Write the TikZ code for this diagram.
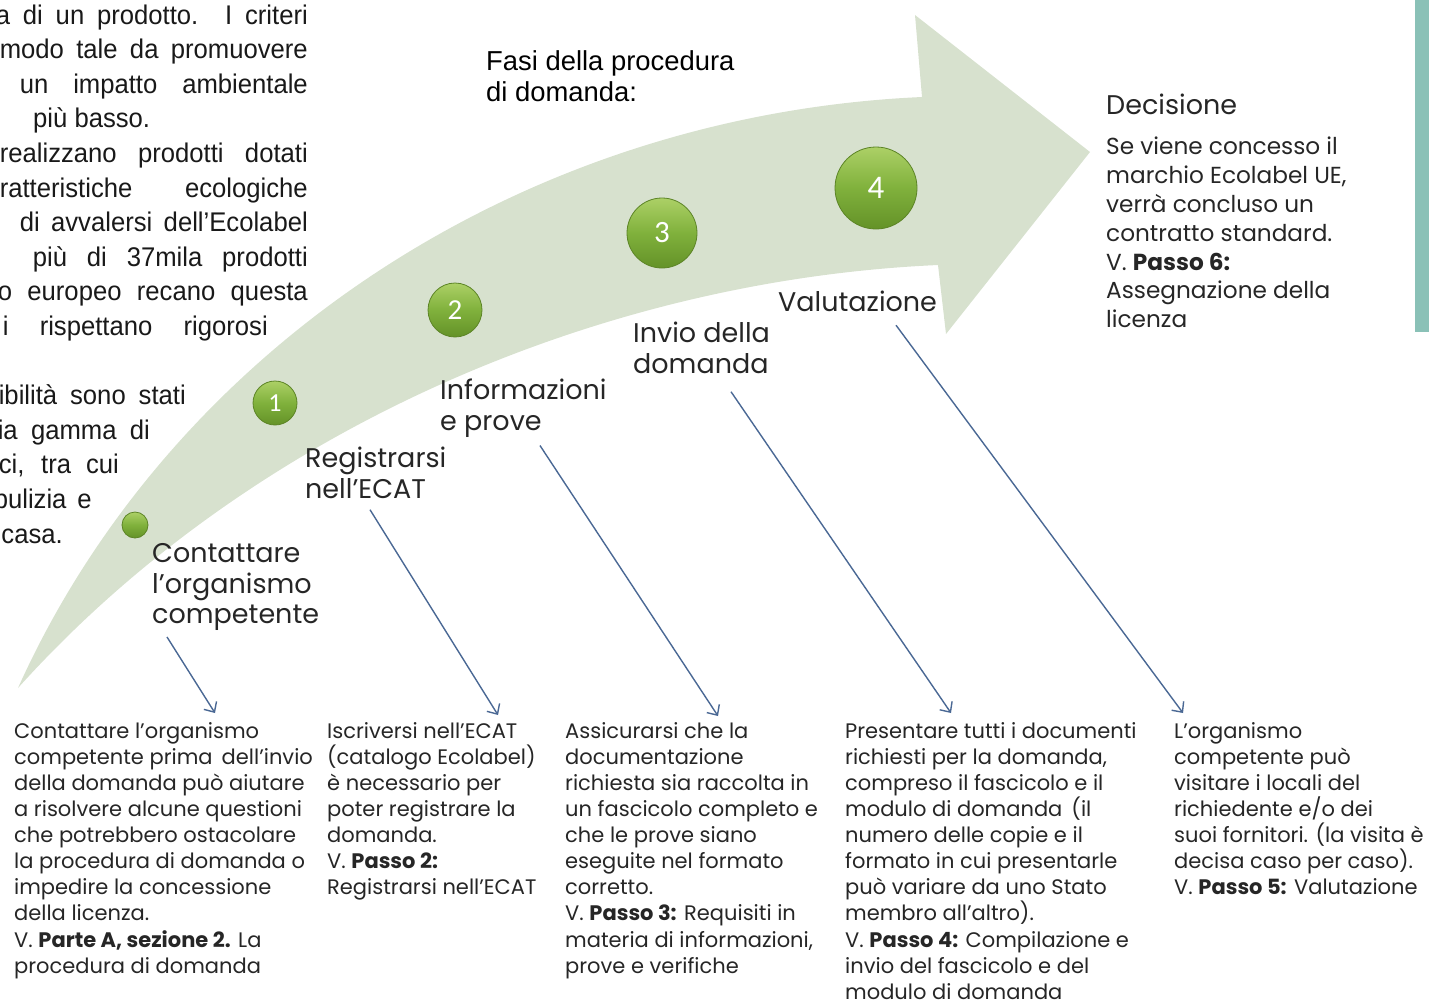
\documentclass[tikz,border=0pt]{standalone}
\usepackage{fontspec}
\setmainfont{Poppins}
\newfontfamily\helv{Liberation Sans}
\newfontfamily\helvschmal[FakeStretch=0.95]{Liberation Sans}
\newfontfamily\zahl{Carlito}
\usetikzlibrary{arrows.meta}
\definecolor{pfeilgruen}{RGB}{215,225,206}
\definecolor{kugelhell}{RGB}{172,208,102}
\definecolor{kugelgruen}{RGB}{128,177,60}
\definecolor{kugeldunkel}{RGB}{100,146,40}
\definecolor{kugelrand}{RGB}{92,132,38}
\definecolor{linienblau}{RGB}{74,104,148}
\definecolor{balken}{RGB}{138,193,183}
\definecolor{schrift}{RGB}{38,38,38}
\tikzset{
	kugel/.style={circle,draw=kugelrand,line width=0.8pt,top color=kugelhell,bottom color=kugeldunkel,middle color=kugelgruen,text=white,inner sep=0pt},
	phase/.style={anchor=north west,align=left,inner sep=0pt,text=schrift,font=\fontsize{27}{30.5}\selectfont},
	spalte/.style={anchor=north west,align=left,inner sep=0pt,text=schrift,font=\fontsize{21}{26.1}\selectfont},
	links/.style={anchor=base east,inner sep=0pt,text=black!90,font=\helvschmal\fontsize{27}{34}\selectfont},
	verbinder/.style={draw=linienblau,line width=1.4pt,-{Straight Barb[length=8pt,width=15pt]}}
}
\begin{document}
\begin{tikzpicture}[x=1pt,y=-1pt]
	\useasboundingbox (0,0) rectangle (1439,1005);
	% Fliesstext links
	\node[links] (z1) at (308,24) {\makebox[312pt][s]{a di un prodotto. I criteri}};
	\node[links] (z2) at (308,58.6) {\makebox[308pt][s]{modo tale da promuovere}};
	\node[links] (z3) at (308,93.2) {\makebox[288pt][s]{un impatto ambientale}};
	\node[links,anchor=base west] (z4) at (33,127.8) {più basso.};
	\node[links] (z5) at (308,162.4) {\makebox[308pt][s]{realizzano prodotti dotati}};
	\node[links] (z6) at (308,197) {\makebox[308pt][s]{ratteristiche ecologiche}};
	\node[links] (z7) at (308,231.6) {\makebox[288pt][s]{di avvalersi dell’Ecolabel}};
	\node[links] (z8) at (308,266.2) {\makebox[275pt][s]{più di 37mila prodotti}};
	\node[links] (z9) at (308,300.8) {\makebox[310pt][s]{o europeo recano questa}};
	\node[links] (z10) at (268,335.4) {\makebox[265pt][s]{i rispettano rigorosi}};
	\node[links] (z11) at (186,404.6) {\makebox[187pt][s]{ibilità sono stati}};
	\node[links] (z12) at (150,439.2) {\makebox[152pt][s]{ia gamma di}};
	\node[links] (z13) at (119,473.8) {\makebox[120pt][s]{ci, tra cui}};
	\node[links] (z14) at (92,508.4) {\makebox[98pt][s]{pulizia e}};
	\node[links] (z15) at (63,543) {casa.};
	% Pfeil
	\fill[pfeilgruen] (18,688) .. controls (170,350) and (520,115) .. (922,97)
		-- (915,15) -- (1090,152) -- (946,334) -- (938,265)
		.. controls (600,280) and (250,430) .. (18,688) -- cycle;
	% Kugeln
	\node[kugel,minimum size=26pt] (k0) at (135,525) {};
	\node[kugel,minimum size=44pt,font=\zahl\fontsize{26}{26}\selectfont] (k1) at (275,403) {1};
	\node[kugel,minimum size=54pt,font=\zahl\fontsize{29}{29}\selectfont] (k2) at (455,310) {2};
	\node[kugel,minimum size=70pt,font=\zahl\fontsize{31}{31}\selectfont] (k3) at (662,233) {3};
	\node[kugel,minimum size=82pt,font=\zahl\fontsize{33}{33}\selectfont] (k4) at (876,188) {4};
	% Titel
	\node[anchor=north west,align=left,inner sep=0pt,font=\helv\fontsize{27.4}{31}\selectfont] (titel) at (486,50) {Fasi della procedura\\di domanda:};
	% Phasen
	\node[phase] (kontakt) at (152,543.5) {Contattare\\l'organismo\\competente};
	\node[phase] (ecat) at (305,447) {Registrarsi\\nell'ECAT};
	\node[phase] (info) at (440,379) {Informazioni\\e prove};
	\node[phase] (invio) at (633,322) {Invio della\\domanda};
	\node[phase] (valut) at (778,291) {Valutazione};
	\node[phase] (decis) at (1106,94) {Decisione};
	\node[anchor=north west,align=left,inner sep=0pt,text=schrift,font=\fontsize{23.2}{28.8}\selectfont] (decistext) at (1106,137)
		{Se viene concesso il\\marchio Ecolabel UE,\\verrà concluso un\\contratto standard.\\V. \textbf{Passo 6:}\\Assegnazione della\\licenza};
	% Spalten unten
	\node[spalte] (sp1) at (14,722) {Contattare l'organismo\\competente prima\, dell'invio\\della domanda può aiutare\\a risolvere alcune questioni\\che potrebbero ostacolare\\la procedura di domanda o\\impedire la concessione\\della licenza.\\V. \textbf{Parte A, sezione 2.} La\\procedura di domanda};
	\node[spalte] (sp2) at (327,722) {Iscriversi nell'ECAT\\(catalogo Ecolabel)\\è necessario per\\poter registrare la\\domanda.\\V. \textbf{Passo 2:}\\Registrarsi nell'ECAT};
	\node[spalte] (sp3) at (565,722) {Assicurarsi che la\\documentazione\\richiesta sia raccolta in\\un fascicolo completo e\\che le prove siano\\eseguite nel formato\\corretto.\\V. \textbf{Passo 3:} Requisiti in\\materia di informazioni,\\prove e verifiche};
	\node[spalte] (sp4) at (845,722) {Presentare tutti i documenti\\richiesti per la domanda,\\compreso il fascicolo e il\\modulo di domanda\, (il\\numero delle copie e il\\formato in cui presentarle\\può variare da uno Stato\\membro all'altro).\\V. \textbf{Passo 4:} Compilazione e\\invio del fascicolo e del\\modulo di domanda};
	\node[spalte] (sp5) at (1174,722) {L'organismo\\competente può\\visitare i locali del\\richiedente e/o dei\\suoi fornitori. (la visita è\\decisa caso per caso).\\V. \textbf{Passo 5:} Valutazione};
	% Verbindungen
	\draw[verbinder] ([xshift=15pt,yshift=-6pt]kontakt.south west) -- ([xshift=201pt,yshift=9pt]sp1.north west);
	\draw[verbinder] ([xshift=65pt,yshift=-11pt]ecat.south west) -- ([xshift=171pt,yshift=7pt]sp2.north west);
	\draw[verbinder] ([xshift=100pt,yshift=-8pt]info.south west) -- ([xshift=153pt,yshift=6pt]sp3.north west);
	\draw[verbinder] ([xshift=98pt,yshift=-18pt]invio.south west) -- ([xshift=106pt,yshift=9pt]sp4.north west);
	\draw[verbinder] ([xshift=118pt,yshift=-13pt]valut.south west) -- ([xshift=9pt,yshift=9pt]sp5.north west);
	% Balken rechts
	\fill[balken] (1415,0) rectangle (1429,332);
\end{tikzpicture}
\end{document}
